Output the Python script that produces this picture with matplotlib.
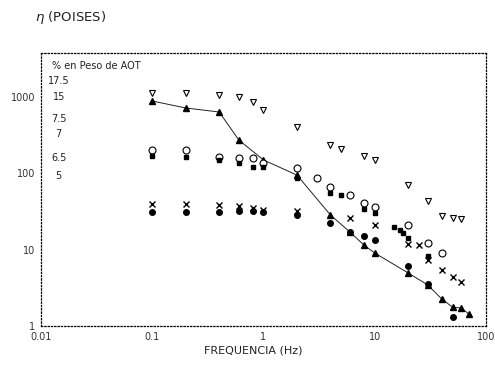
import matplotlib
matplotlib.use('Agg')
import matplotlib.pyplot as plt

# viscosity vs frequency, one series per % AOT
f_175 = [0.1, 0.2, 0.4, 0.6, 0.8, 1, 2, 4, 5, 8, 10, 20, 30, 40, 50, 60]
v_175 = [1130, 1130, 1065, 1000, 860, 680, 405, 236, 209, 169, 150, 70, 43, 28, 26, 25]

f_15 = [0.1, 0.2, 0.4, 0.6, 1, 2, 4, 6, 8, 10, 20, 30, 40, 50, 60, 70]
v_15 = [889, 720, 638, 274, 150, 95, 28.5, 17, 11.5, 9.05, 4.95, 3.45, 2.26, 1.77, 1.72, 1.44]

f_75 = [0.1, 0.2, 0.4, 0.6, 0.8, 1, 2, 3, 4, 6, 8, 10, 20, 30, 40]
v_75 = [203, 203, 164, 159, 159, 137, 118, 87, 66, 52, 41, 36, 21, 12.2, 9.05]

f_7 = [0.1, 0.2, 0.4, 0.6, 0.8, 1, 2, 4, 5, 8, 10, 15, 17, 18, 20, 30]
v_7 = [169, 163, 150, 137, 121, 121, 87, 55, 52, 34, 30.3, 19.8, 18.1, 16.6, 14.2, 8.27]

f_65 = [0.1, 0.2, 0.4, 0.6, 0.8, 1, 2, 6, 10, 20, 25, 30, 40, 50, 60]
v_65 = [39.7, 39.7, 38.5, 37.4, 35.2, 33.2, 32, 26, 21, 11.9, 11.5, 7.3, 5.4, 4.4, 3.8]

f_5 = [0.1, 0.2, 0.4, 0.6, 0.8, 1, 2, 4, 6, 8, 10, 20, 30, 50]
v_5 = [31.2, 31.2, 31.2, 32.2, 32.2, 31.2, 28.5, 22.5, 17, 15.1, 13.4, 6.1, 3.55, 1.31]

legend_labels = ['17.5', '15', '7.5', '7', '6.5', '5']

fig = plt.figure(figsize=(4.95, 3.67), dpi=100)
ax = fig.add_axes([0.0828, 0.1117, 0.899, 0.7439])

# the fitted curve through the 15 % points
ax.plot(f_15, v_15, color='#222222', lw=0.7, zorder=1)
ax.plot(f_175, v_175, 'v', mfc='white', mec='black', ms=4.5, mew=0.8, ls='none')
ax.plot(f_15, v_15, '^', color='black', ms=4, ls='none')
ax.plot(f_75, v_75, 'o', mfc='white', mec='black', ms=5, mew=0.8, ls='none')
ax.plot(f_7, v_7, 's', color='black', ms=3.5, ls='none')
ax.plot(f_65, v_65, 'x', color='black', ms=4, mew=1.0, ls='none')
ax.plot(f_5, v_5, 'o', color='black', ms=4, ls='none')

ax.set_xscale('log')
ax.set_yscale('log')
ax.set_xlim(0.01, 100)
ax.set_ylim(1, 3785)
ax.set_xticks([0.01, 0.1, 1, 10, 100])
ax.set_xticklabels(['0.01', '0.1', '1', '10', '100'])
ax.set_yticks([1, 10, 100, 1000])
ax.set_yticklabels(['1', '10', '100', '1000'])
ax.minorticks_off()
ax.tick_params(length=0, labelsize=7, pad=4, labelcolor='#333333')

for s in ax.spines.values():
    s.set_linestyle(':')
    s.set_linewidth(0.9)

ax.text(0.025, 0.952, '% en Peso de AOT', transform=ax.transAxes, fontsize=7, va='center', color='#222222')
ys = [0.897, 0.839, 0.758, 0.703, 0.615, 0.549]
for lab, yy in zip(legend_labels, ys):
    ax.text(0.04, yy, lab, transform=ax.transAxes, fontsize=7, ha='center', va='center', color='#222222')

fig.text(0.071, 0.951, r'$\eta$ (POISES)', fontsize=9.5, va='center', color='#222222')
fig.text(0.511, 0.046, 'FREQUENCIA (Hz)', fontsize=8, ha='center', va='center', color='#222222')

fig.savefig('out.png', dpi=100)
